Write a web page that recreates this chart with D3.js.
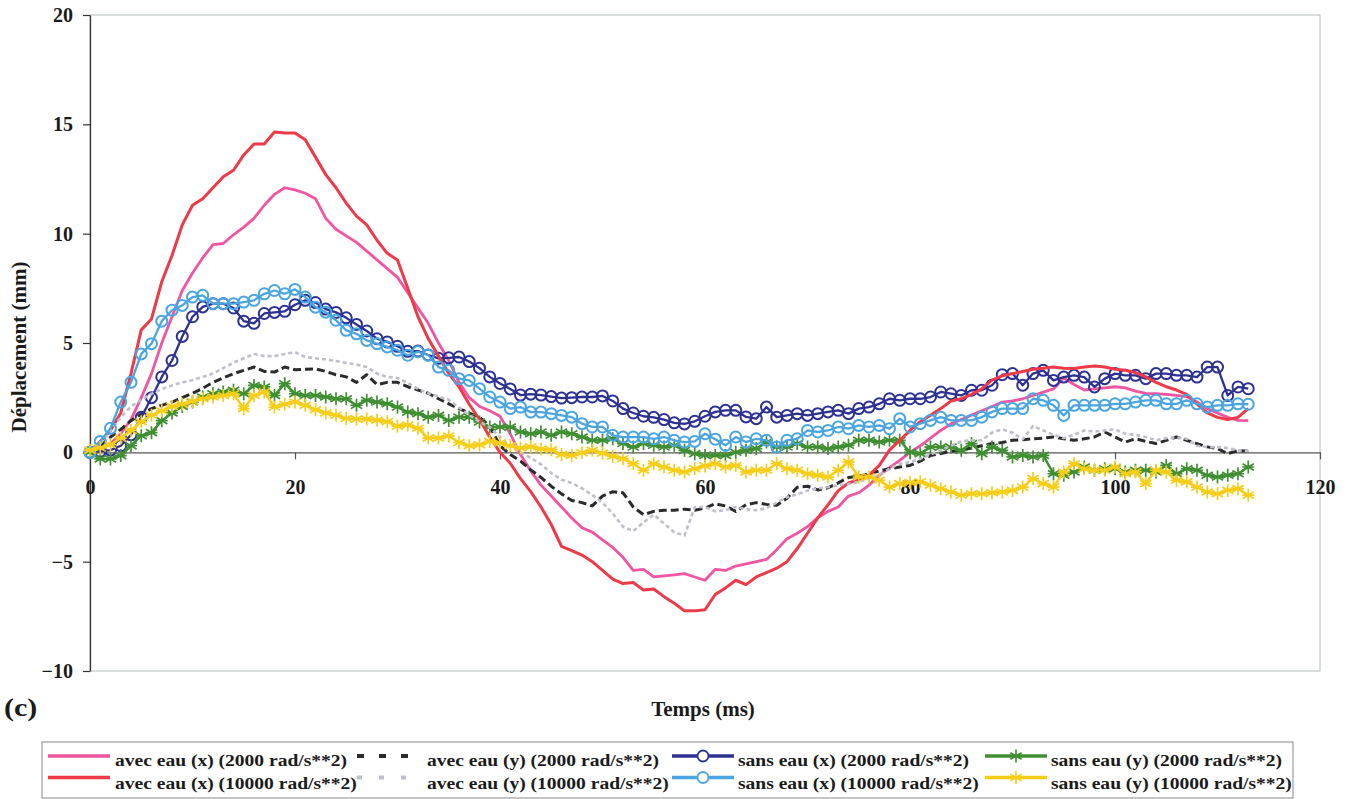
<!DOCTYPE html>
<html><head><meta charset="utf-8">
<script src="https://cdn.jsdelivr.net/npm/d3@7"></script>
<style>
body{margin:0;background:#fff;}
svg{display:block;background:#fff;}
text{font-family:"Liberation Serif","Times New Roman",serif;font-weight:bold;fill:#1a1a1a;}
</style>
</head><body>
<svg id="chart" width="1349" height="799"></svg>
<script>
// ---------- DATA ----------
const timeMs = [0,1,2,3,4,5,6,7,8,9,10,11,12,13,14,15,16,17,18,19,20,21,22,23,24,25,26,27,28,29,30,31,32,33,34,35,36,37,38,39,40,41,42,43,44,45,46,47,48,49,50,51,52,53,54,55,56,57,58,59,60,61,62,63,64,65,66,67,68,69,70,71,72,73,74,75,76,77,78,79,80,81,82,83,84,85,86,87,88,89,90,91,92,93,94,95,96,97,98,99,100,101,102,103,104,105,106,107,108,109,110,111,112,113];

const avecX2000 = [0,0.2,0.4,0.85,1.5,2.5,3.6,5.0,6.2,7.4,
 8.2,8.9,9.5,9.55,9.95,10.3,10.7,11.3,11.8,12.1,
 12.0,11.85,11.6,10.7,10.2,9.9,9.6,9.2,8.8,8.4,
 8.0,7.3,6.6,5.9,5.0,4.2,3.2,2.5,2.1,1.9,
 1.65,0.85,-0.1,-0.85,-1.5,-2.0,-2.5,-3.0,-3.45,-3.65,
 -4.0,-4.35,-4.8,-5.4,-5.35,-5.7,-5.65,-5.6,-5.55,-5.7,
 -5.85,-5.35,-5.4,-5.2,-5.1,-5.0,-4.9,-4.45,-3.95,-3.7,
 -3.4,-3.0,-2.7,-2.5,-2.0,-1.85,-1.5,-1.05,-0.7,-0.37,
 0.0,0.3,0.65,1.0,1.3,1.5,1.7,1.9,2.1,2.3,
 2.35,2.45,2.6,2.75,2.9,3.4,3.1,2.85,2.9,2.95,
 3.0,2.95,2.8,2.7,2.68,2.65,2.6,2.55,2.3,2.0,
 1.8,1.6,1.46,1.45];

const avecY2000 = [0,0.3,0.7,1.05,1.45,1.75,2.0,2.15,2.3,2.5,
 2.7,2.93,3.2,3.4,3.6,3.75,3.9,3.7,3.67,3.9,
 3.78,3.8,3.82,3.7,3.55,3.45,3.2,3.55,3.1,3.2,
 3.2,3.0,2.85,2.7,2.45,2.22,2.0,1.8,1.6,1.2,
 0.3,-0.1,-0.4,-0.8,-1.15,-1.55,-1.9,-2.2,-2.3,-2.45,
 -2.0,-1.8,-1.85,-2.5,-2.85,-2.7,-2.65,-2.65,-2.6,-2.65,
 -2.55,-2.35,-2.45,-2.7,-2.4,-2.3,-2.38,-2.42,-2.1,-1.6,
 -1.55,-1.72,-1.62,-1.4,-1.15,-1.1,-0.98,-0.85,-0.75,-0.67,
 -0.6,-0.4,-0.15,-0.05,0.05,0.1,0.2,0.3,0.4,0.45,
 0.55,0.58,0.62,0.65,0.7,0.62,0.55,0.62,0.7,0.93,
 0.7,0.47,0.62,0.5,0.4,0.55,0.7,0.55,0.4,0.25,
 0.17,-0.06,0.08,0.05];

const sansX2000 = [0,0.05,0.1,0.3,0.8,1.6,2.5,3.45,4.2,5.3,
 6.2,6.65,6.8,6.8,6.6,6.0,5.9,6.35,6.4,6.45,
 6.75,6.95,6.85,6.55,6.4,6.15,5.85,5.55,5.2,5.05,
 4.85,4.62,4.63,4.45,4.3,4.32,4.36,4.15,3.85,3.45,
 3.15,2.9,2.62,2.66,2.62,2.55,2.48,2.5,2.53,2.53,
 2.58,2.35,2.0,1.8,1.65,1.6,1.5,1.35,1.3,1.42,
 1.65,1.85,1.92,1.92,1.62,1.54,2.07,1.61,1.69,1.77,
 1.69,1.77,1.85,1.92,1.77,2.0,2.07,2.22,2.45,2.38,
 2.45,2.45,2.53,2.76,2.68,2.6,2.84,2.84,3.07,3.55,
 3.6,3.07,3.6,3.75,3.29,3.44,3.52,3.44,2.99,3.37,
 3.6,3.52,3.52,3.37,3.6,3.6,3.52,3.52,3.44,3.9,
 3.9,2.6,2.99,2.91];

const sansY2000 = [0,-0.3,-0.3,-0.15,0.3,0.76,0.9,1.45,1.8,2.1,
 2.3,2.53,2.68,2.76,2.84,2.68,3.06,2.99,2.6,3.14,
 2.68,2.6,2.6,2.53,2.45,2.45,2.15,2.38,2.3,2.22,
 2.07,1.84,1.77,1.61,1.69,1.46,1.61,1.61,1.39,1.16,
 1.16,1.16,0.93,0.85,0.93,0.78,0.93,0.85,0.7,0.55,
 0.55,0.62,0.4,0.24,0.4,0.32,0.24,0.32,0.09,-0.06,
 -0.14,-0.14,-0.14,0.0,0.09,0.17,0.47,0.24,0.24,0.4,
 0.24,0.24,0.17,0.24,0.32,0.55,0.55,0.47,0.55,0.55,
 0.0,-0.06,0.24,0.24,0.24,0.09,0.4,-0.06,0.24,0.09,
 -0.21,-0.14,-0.21,-0.14,-0.98,-1.05,-0.9,-0.67,-0.82,-0.75,
 -0.75,-0.9,-0.82,-0.82,-0.9,-0.6,-0.98,-0.75,-0.82,-1.05,
 -1.13,-1.05,-0.98,-0.67];

const avecX10000 = [0,0.5,1.0,1.8,3.6,5.6,6.1,7.8,9.0,10.4,
 11.3,11.6,12.1,12.6,12.9,13.6,14.1,14.1,14.65,14.6,
 14.6,14.3,13.5,12.7,12.1,11.4,10.8,10.4,9.7,9.1,
 8.8,7.5,6.2,5.2,4.4,3.6,3.0,2.2,1.5,0.7,
 0.0,-0.5,-1.2,-1.8,-2.5,-3.3,-4.3,-4.5,-4.7,-5.0,
 -5.4,-5.8,-6.0,-5.95,-6.3,-6.25,-6.6,-6.9,-7.25,-7.25,
 -7.2,-6.5,-6.2,-5.85,-6.05,-5.7,-5.5,-5.3,-5.0,-4.4,
 -3.7,-3.0,-2.4,-1.75,-1.4,-1.25,-1.05,-0.6,0.1,0.55,
 1.0,1.4,1.7,2.0,2.35,2.45,2.65,2.9,3.3,3.5,
 3.6,3.7,3.8,3.85,3.9,3.85,3.83,3.9,3.95,3.9,
 3.8,3.75,3.65,3.45,3.2,3.0,2.85,2.65,2.2,1.8,
 1.6,1.5,1.6,2.0];

const avecY10000 = [0,0.4,1.0,1.6,2.1,2.4,2.68,2.9,3.06,3.2,
 3.3,3.45,3.6,3.85,4.1,4.3,4.5,4.4,4.4,4.5,
 4.58,4.36,4.3,4.25,4.18,4.08,4.02,3.9,3.6,3.45,
 3.4,3.17,2.9,2.7,2.55,2.4,2.05,1.7,1.4,1.15,
 0.7,0.3,0.0,-0.25,-0.55,-0.95,-1.25,-1.4,-1.65,-1.95,
 -2.3,-2.8,-3.4,-3.6,-3.2,-2.85,-3.25,-3.65,-3.8,-2.5,
 -2.5,-2.7,-2.65,-2.5,-2.6,-2.65,-2.55,-2.3,-2.05,-1.92,
 -1.75,-1.65,-1.6,-1.5,-1.45,-1.35,-1.2,-1.05,-0.75,-0.52,
 -0.45,-0.3,-0.1,0.1,0.3,0.5,0.55,0.55,0.9,1.05,
 0.9,0.6,1.2,1.0,0.8,0.65,0.8,1.0,0.95,1.0,
 1.05,0.85,0.8,0.7,0.55,0.65,0.68,0.62,0.3,0.24,
 0.24,0.2,0.09,0.05];

const sansX10000 = [0,0.5,1.1,2.3,3.2,4.5,4.97,6.0,6.5,6.72,
 7.1,7.18,6.8,6.8,6.8,6.87,6.95,7.25,7.4,7.25,
 7.45,7.1,6.64,6.41,6.04,5.58,5.42,5.12,4.97,4.82,
 4.67,4.44,4.6,4.44,3.9,3.75,3.37,3.29,2.91,2.53,
 2.3,2.0,2.07,1.84,1.84,1.77,1.69,1.61,1.31,1.16,
 1.16,0.78,0.7,0.7,0.7,0.62,0.7,0.55,0.47,0.5,
 0.85,0.6,0.32,0.7,0.47,0.62,0.55,0.24,0.55,0.62,
 1.0,0.93,1.0,1.16,1.08,1.23,1.16,1.23,1.08,1.54,
 1.16,1.31,1.46,1.61,1.46,1.46,1.46,1.61,1.85,2.0,
 2.0,2.0,2.45,2.38,2.15,1.69,2.15,2.15,2.15,2.15,
 2.22,2.22,2.3,2.38,2.38,2.22,2.22,2.38,2.22,2.07,
 2.15,2.15,2.22,2.2];

const sansY10000 = [0.1,0.2,0.35,0.65,1.0,1.4,1.7,1.9,2.1,2.2,
 2.33,2.45,2.53,2.6,2.68,2.0,2.6,2.76,2.07,2.2,
 2.3,2.15,1.95,1.8,1.7,1.55,1.52,1.52,1.47,1.4,
 1.2,1.25,1.1,0.65,0.65,0.75,0.45,0.3,0.35,0.5,
 0.43,0.3,0.2,0.25,0.15,0.12,-0.1,-0.14,-0.02,0.09,
 -0.04,-0.18,-0.29,-0.52,-0.82,-0.52,-0.67,-0.82,-0.9,-0.75,
 -0.62,-0.52,-0.67,-0.6,-0.9,-0.82,-0.82,-0.52,-0.75,-0.82,
 -0.98,-1.05,-1.13,-0.82,-0.44,-1.13,-1.13,-1.28,-1.59,-1.43,
 -1.38,-1.35,-1.5,-1.66,-1.81,-1.96,-1.89,-1.89,-1.85,-1.81,
 -1.74,-1.59,-1.2,-1.43,-1.59,-0.9,-0.52,-0.75,-0.82,-0.82,
 -0.67,-0.98,-0.9,-1.43,-0.82,-0.9,-1.28,-1.35,-1.59,-1.81,
 -1.89,-1.74,-1.66,-1.96];

const xTicks = [0,20,40,60,80,100,120];
const yTicks = [-10,-5,0,5,10,15,20];

const seriesNames = [
 "avec eau (x) (2000 rad/s**2)", "avec eau (y) (2000 rad/s**2)",
 "sans eau (x) (2000 rad/s**2)", "sans eau (y) (2000 rad/s**2)",
 "avec eau (x) (10000 rad/s**2)", "avec eau (y) (10000 rad/s**2)",
 "sans eau (x) (10000 rad/s**2)", "sans eau (y) (10000 rad/s**2)"];
const seriesValues = [avecX2000, avecY2000, sansX2000, sansY2000,
                      avecX10000, avecY10000, sansX10000, sansY10000];

// ---------- STYLES ----------
const styles = [
 {color:"#ef55a0", width:2.8, dash:null, marker:null},
 {color:"#2b2b2b", width:3, dash:"8,4", marker:null, legendDash:"7,15"},
 {color:"#2d3192", width:2.3, dash:null, marker:"circle"},
 {color:"#3f8f32", width:2.5, dash:null, marker:"star"},
 {color:"#ee3a48", width:3, dash:null, marker:null},
 {color:"#bfbfca", width:2.6, dash:"4,3", marker:null, legendDash:"5,17"},
 {color:"#4aa5e0", width:2.3, dash:null, marker:"circle"},
 {color:"#f6cd18", width:2.5, dash:null, marker:"star"}
];

// ---------- CHART ----------
const svg = d3.select("#chart");
const x = d3.scaleLinear().domain([0,120]).range([90,1320]);
const y = d3.scaleLinear().domain([-10,20]).range([671,15]);

// plot frame
svg.append("rect").attr("x",x(0)).attr("y",y(20))
  .attr("width",x(120)-x(0)).attr("height",y(-10)-y(20))
  .attr("fill","none").attr("stroke","#b4bcbc").attr("stroke-width",1);

// y axis
const yAxis = svg.append("g").attr("transform",`translate(${x(0)},0)`)
  .call(d3.axisLeft(y).tickValues(yTicks).tickSize(7).tickSizeOuter(0).tickPadding(10).tickFormat(d3.format("d")));
yAxis.select(".domain").attr("stroke","#333").attr("stroke-width",1.3);
yAxis.selectAll(".tick line").attr("stroke","#333").attr("stroke-width",1.2);
yAxis.selectAll("text").style("font-size","20px").style("font-family",'"Liberation Serif","Times New Roman",serif').style("font-weight","bold").attr("fill","#1a1a1a");

// x axis at zero
const xAxis = svg.append("g").attr("transform",`translate(0,${y(0)})`)
  .call(d3.axisBottom(x).tickValues(xTicks).tickSize(7).tickSizeOuter(0).tickPadding(20).tickFormat(d3.format("d")));
xAxis.select(".domain").attr("stroke","#555").attr("stroke-width",1.2);
xAxis.selectAll(".tick line").attr("stroke","#555").attr("stroke-width",1.2);
xAxis.selectAll("text").style("font-size","20px").style("font-family",'"Liberation Serif","Times New Roman",serif').style("font-weight","bold").attr("fill","#1a1a1a");

// series
const starPath = "M0,-6.5V6.5M-5.6,-3.3L5.6,3.3M-5.6,3.3L5.6,-3.3M-6,0H6";
const line = d3.line().x((d,i)=>x(timeMs[i])).y(d=>y(d));
const plot = svg.append("g");
seriesValues.forEach((vals,k)=>{
  const st = styles[k];
  const g = plot.append("g");
  g.append("path").datum(vals).attr("d",line)
    .attr("fill","none").attr("stroke",st.color).attr("stroke-width",st.width)
    .attr("stroke-linejoin","round")
    .attr("stroke-dasharray",st.dash);
  if(st.marker==="circle"){
    g.selectAll("circle").data(vals).join("circle")
      .attr("cx",(d,i)=>x(timeMs[i])).attr("cy",d=>y(d)).attr("r",5.5)
      .attr("fill","none").attr("stroke",st.color).attr("stroke-width",2);
  } else if(st.marker==="star"){
    g.selectAll("path.m").data(vals).join("path").attr("class","m")
      .attr("transform",(d,i)=>`translate(${x(timeMs[i])},${y(d)})`)
      .attr("d",starPath).attr("fill","none").attr("stroke",st.color).attr("stroke-width",1.7);
  }
});

// axis titles
svg.append("text").attr("transform",`translate(26,347) rotate(-90)`)
  .attr("text-anchor","middle").style("font-size","21px").text("Déplacement (mm)");
svg.append("text").attr("x",703).attr("y",716)
  .attr("text-anchor","middle").style("font-size","21px").text("Temps (ms)");
svg.append("text").attr("transform","translate(4,716) scale(1.2,1)")
  .style("font-size","25px").text("(c)");

// legend
const legend = svg.append("g");
legend.append("rect").attr("x",42).attr("y",742).attr("width",1251).attr("height",56)
  .attr("fill","#fff").attr("stroke","#8a8a8a").attr("stroke-width",1);
const colMarkX = [48,357,672,985];
const colTextX = [115,427,738,1051];
const rowLineY = [756,777.5];
const rowTextY = [765.5,788.5];
seriesNames.forEach((name,k)=>{
  const st = styles[k];
  const col = k%4, row = Math.floor(k/4);
  const x0 = colMarkX[col], x1 = x0 + (col===1 ? 53 : 62);
  const ly = rowLineY[row];
  const lg = legend.append("g");
  lg.append("line").attr("x1",x0).attr("x2",x1).attr("y1",ly).attr("y2",ly)
    .attr("stroke",st.color).attr("stroke-width",st.dash?4:3.5)
    .attr("stroke-dasharray",st.legendDash||null);
  const cx = (x0+x1)/2;
  if(st.marker==="circle"){
    lg.append("circle").attr("cx",cx).attr("cy",ly).attr("r",5.5)
      .attr("fill","#fff").attr("stroke",st.color).attr("stroke-width",1.8);
  } else if(st.marker==="star"){
    lg.append("path").attr("transform",`translate(${cx},${ly})`).attr("d",starPath)
      .attr("fill","none").attr("stroke",st.color).attr("stroke-width",1.6);
  }
  lg.append("text").attr("transform",`translate(${colTextX[col]},${rowTextY[row]}) scale(1.15,1)`)
    .style("font-size","17px").text(name);
});
</script>
</body></html>
